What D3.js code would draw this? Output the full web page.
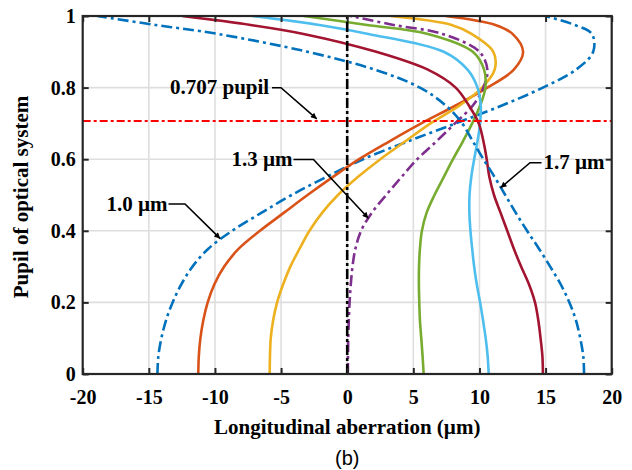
<!DOCTYPE html>
<html>
<head>
<meta charset="utf-8">
<script src="https://cdn.jsdelivr.net/npm/d3@7"></script>
<style>
  html, body { margin: 0; padding: 0; background: #fff; }
  svg { display: block; }
</style>
</head>
<body>
<svg id="chart" width="632" height="470"></svg>
<script>
// ---- data ----
const pupil = [0, 0.05, 0.1, 0.15, 0.2, 0.25, 0.3, 0.35, 0.4, 0.45, 0.5, 0.55, 0.6, 0.65, 0.7, 0.75, 0.8, 0.85, 0.9, 0.95, 0.975, 1.0];
const ab10 = [-14.35, -14.28, -14.05, -13.7, -13.2, -12.55, -11.7, -10.5, -8.7, -6.5, -4.2, -1.6, 1.2, 4.6, 8.2, 11.7, 14.8, 17.3, 18.6, 18.5, 17.2, 15.0];
const ab11 = [-11.26, -11.22, -11.1, -10.88, -10.55, -10.05, -9.3, -8.2, -6.6, -4.8, -3.0, -1.1, 0.9, 3.2, 5.6, 8.2, 10.6, 12.6, 13.3, 12.5, 11.2, 7.45];
const ab12 = [-5.86, -5.84, -5.78, -5.6, -5.3, -4.85, -4.3, -3.6, -2.85, -1.9, -0.7, 0.8, 2.5, 4.4, 6.3, 8.5, 10.2, 11.15, 11.05, 9.4, 7.9, 3.3];
const ab13 = [0.05, 0.06, 0.08, 0.12, 0.18, 0.27, 0.4, 0.62, 1.05, 1.85, 2.95, 4.1, 5.3, 6.75, 8.15, 9.5, 10.3, 10.6, 10.0, 7.2, 3.5, 0.26];
const ab14 = [5.78, 5.7, 5.6, 5.5, 5.45, 5.42, 5.43, 5.5, 5.65, 6.0, 6.6, 7.3, 8.0, 8.75, 9.45, 10.05, 10.45, 10.35, 9.5, 6.1, 1.5, -3.27];
const ab15 = [10.7, 10.62, 10.47, 10.27, 10.05, 9.8, 9.6, 9.45, 9.32, 9.24, 9.25, 9.38, 9.6, 9.85, 10.05, 10.1, 9.85, 9.1, 7.3, 1.6, -2.1, -7.17];
const ab16 = [14.8, 14.76, 14.62, 14.45, 14.2, 13.75, 13.15, 12.6, 12.1, 11.6, 11.1, 10.75, 10.55, 10.3, 9.95, 9.2, 8.2, 6.1, 2.2, -3.3, -7.3, -12.47];
const ab17 = [17.91, 17.85, 17.62, 17.3, 16.8, 16.15, 15.35, 14.5, 13.6, 12.75, 11.95, 11.15, 10.3, 9.5, 8.7, 7.45, 5.5, 2.1, -3.0, -9.8, -14.5, -18.9];
const wavelengths = ["1.0 µm", "1.1 µm", "1.2 µm", "1.3 µm", "1.4 µm", "1.5 µm", "1.6 µm", "1.7 µm"];
const seriesValues = [ab10, ab11, ab12, ab13, ab14, ab15, ab16, ab17];
const xTicks = [-20, -15, -10, -5, 0, 5, 10, 15, 20];
const xTickLabels = ["-20", "-15", "-10", "-5", "0", "5", "10", "15", "20"];
const yTicks = [0, 0.2, 0.4, 0.6, 0.8, 1];
const yTickLabels = ["0", "0.2", "0.4", "0.6", "0.8", "1"];
const refPupil = 0.707;
const refAberration = 0;
const annotations = ["0.707 pupil", "1.3 µm", "1.0 µm", "1.7 µm"];

// ---- styles ----
const colors = ["#0072BD", "#D95319", "#EDB120", "#7E2F8E", "#77AC30", "#4DBEEE", "#A2142F", "#0072BD"];
const dashes = ["11,4,3,4", null, null, "11,4,3,4", null, null, null, "11,4,3,4"];

const svg = d3.select("#chart");
const L = 82.7, R = 611.7, T = 16, B = 374;
const x = d3.scaleLinear().domain([-20, 20]).range([L, R]);
const y = d3.scaleLinear().domain([0, 1]).range([B, T]);
const serif = "'Liberation Serif', 'Times New Roman', serif";

const defs = svg.append("defs");
defs.append("clipPath").attr("id", "clip")
  .append("rect").attr("x", L).attr("y", T).attr("width", R - L).attr("height", B - T);
const marker = defs.append("marker")
  .attr("id", "arrow").attr("viewBox", "0 0 10 10").attr("refX", 10).attr("refY", 5)
  .attr("markerWidth", 10).attr("markerHeight", 6).attr("markerUnits", "userSpaceOnUse")
  .attr("orient", "auto");
marker.append("path").attr("d", "M0,0 L10,5 L0,10 z").attr("fill", "#000");

// grid
const grid = svg.append("g");
grid.selectAll(".gx").data(xTicks.slice(1, -1)).enter().append("line")
  .attr("x1", d => x(d)).attr("x2", d => x(d)).attr("y1", T).attr("y2", B)
  .attr("stroke", "#dedede").attr("stroke-width", 1.6);
grid.selectAll(".gy").data(yTicks.slice(1, -1)).enter().append("line")
  .attr("y1", d => y(d)).attr("y2", d => y(d)).attr("x1", L).attr("x2", R)
  .attr("stroke", "#dedede").attr("stroke-width", 1.6);

// curves
const line = d3.line().x(d => x(d[0])).y(d => y(d[1])).curve(d3.curveCatmullRom.alpha(0.5));
const plot = svg.append("g").attr("clip-path", "url(#clip)");
seriesValues.forEach((vals, i) => {
  const pts = vals.map((v, j) => [v, pupil[j]]);
  plot.append("path").attr("d", line(pts))
    .attr("fill", "none").attr("stroke", colors[i]).attr("stroke-width", 2.6)
    .attr("stroke-dasharray", dashes[i]);
});

// reference lines
plot.append("line").attr("x1", x(refAberration)).attr("x2", x(refAberration)).attr("y1", B).attr("y2", T)
  .attr("stroke", "#000").attr("stroke-width", 2.6).attr("stroke-dasharray", "10,3,3,3");
plot.append("line").attr("x1", L).attr("x2", R).attr("y1", y(refPupil)).attr("y2", y(refPupil))
  .attr("stroke", "#ff0000").attr("stroke-width", 2).attr("stroke-dasharray", "8,3,3,3");

// axes (box with inward ticks)
const ax = svg.append("g");
const tickLen = 6;
ax.append("g").attr("transform", `translate(0,${B})`)
  .call(d3.axisBottom(x).tickValues(xTicks).tickSize(-tickLen).tickSizeOuter(0).tickPadding(16)
    .tickFormat((d, i) => xTickLabels[i]));
ax.append("g").attr("transform", `translate(0,${T})`)
  .call(d3.axisTop(x).tickValues(xTicks).tickSize(-tickLen).tickSizeOuter(0).tickFormat(""));
ax.append("g").attr("transform", `translate(${L},0)`)
  .call(d3.axisLeft(y).tickValues(yTicks).tickSize(-tickLen).tickSizeOuter(0).tickPadding(7)
    .tickFormat((d, i) => yTickLabels[i]));
ax.append("g").attr("transform", `translate(${R},0)`)
  .call(d3.axisRight(y).tickValues(yTicks).tickSize(-tickLen).tickSizeOuter(0).tickFormat(""));
ax.selectAll(".domain").remove();
ax.selectAll(".tick line").attr("stroke", "#262626").attr("stroke-width", 2);
ax.selectAll(".tick text").attr("font-family", serif).attr("font-weight", "bold")
  .attr("font-size", 20).attr("fill", "#000");
svg.append("rect").attr("x", L).attr("y", T).attr("width", R - L).attr("height", B - T)
  .attr("fill", "none").attr("stroke", "#262626").attr("stroke-width", 2.2);

// titles
svg.append("text").attr("x", (L + R) / 2).attr("y", 434).attr("text-anchor", "middle")
  .attr("font-family", serif).attr("font-weight", "bold").attr("font-size", 21)
  .text("Longitudinal aberration (µm)");
svg.append("text").attr("transform", "translate(28,197) rotate(-90)").attr("text-anchor", "middle")
  .attr("font-family", serif).attr("font-weight", "bold").attr("font-size", 21)
  .text("Pupil of optical system");
svg.append("text").attr("x", (L + R) / 2).attr("y", 465).attr("text-anchor", "middle")
  .attr("font-family", "'Liberation Sans', Arial, sans-serif").attr("font-size", 20)
  .text("(b)");

// annotations
const ann = svg.append("g");
function label(txt, tx, ty, pts) {
  ann.append("text").attr("x", tx).attr("y", ty).attr("font-family", serif)
    .attr("font-weight", "bold").attr("font-size", 21).attr("fill", "#000").text(txt);
  ann.append("path").attr("d", d3.line()(pts)).attr("fill", "none")
    .attr("stroke", "#000").attr("stroke-width", 1.6).attr("marker-end", "url(#arrow)");
}
label(annotations[0], 170, 94, [[272, 87.7], [281, 87.7], [x(-2.3), y(refPupil) - 2]]);
label(annotations[1], 231.5, 166, [[293.5, 159.5], [313.5, 159.5], [x(1.6), y(0.435)]]);
label(annotations[2], 106.5, 210.5, [[168.5, 204], [185, 204], [x(-9.6), y(0.378)]]);
label(annotations[3], 543.5, 169, [[541.5, 162.7], [530, 162.7], [x(11.6), y(0.52)]]);
</script>
</body>
</html>
